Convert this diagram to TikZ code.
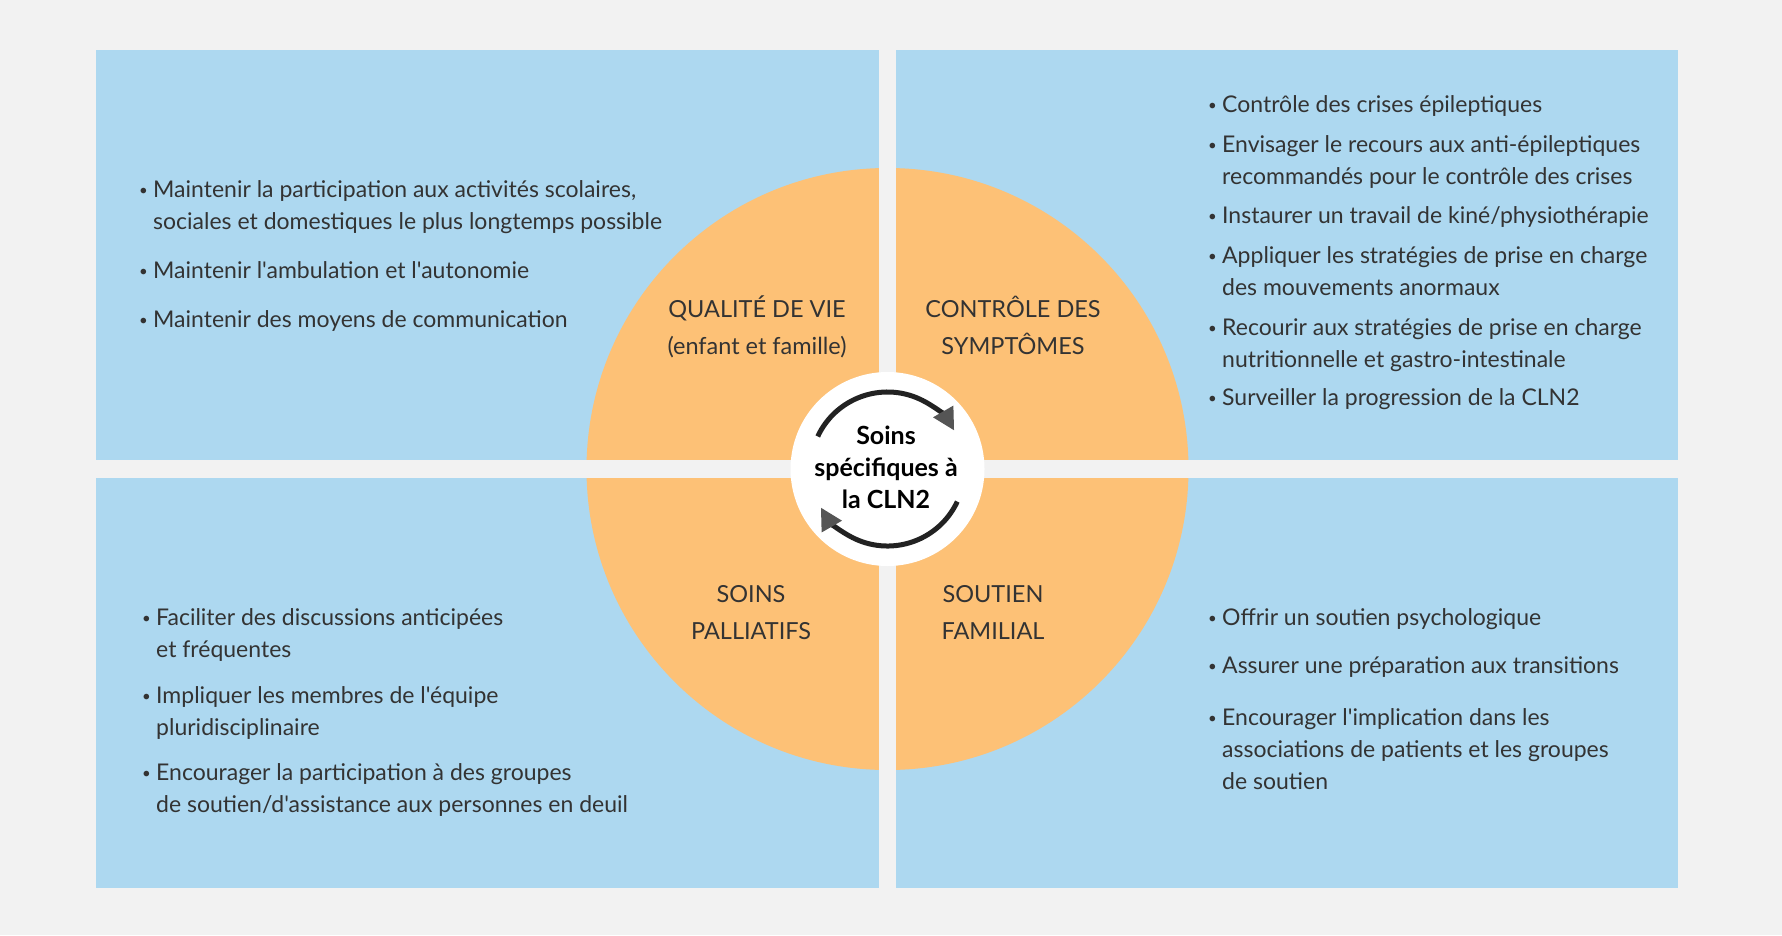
\documentclass[tikz,border=0pt]{standalone}
\usepackage{fontspec}
\setmainfont{Lato}[Ligatures=TeXOff]
\usetikzlibrary{arrows.meta}
\definecolor{bggrey}{HTML}{F2F2F2}
\definecolor{boxblue}{HTML}{ADD8F0}
\definecolor{ringorange}{HTML}{FDC176}
\definecolor{txtgrey}{HTML}{333333}
\definecolor{arcblack}{HTML}{222222}
\definecolor{tipgrey}{HTML}{555555}
\newcommand{\listbullet}{\makebox[14pt][l]{\raisebox{2pt}{\fontsize{15}{15}\selectfont •}}}
\newcommand{\itemlines}[1]{\begin{tabular}[t]{@{}l@{}}#1\end{tabular}}
\newcommand{\labellines}[1]{\begin{tabular}[t]{@{}c@{}}#1\end{tabular}}

\begin{document}
\begin{tikzpicture}[x=1pt,y=-1pt,
  listitem/.style={anchor=base west, inner sep=0pt, text=txtgrey, font=\fontsize{23}{32}\selectfont},
  quadlabel/.style={anchor=base, inner sep=0pt, text=txtgrey, font=\fontsize{23.5}{37}\selectfont},
  arcline/.style={draw=arcblack, line width=5pt, -{Triangle[length=22pt,width=22pt,color=tipgrey]}}]
% background and panels
\fill[bggrey] (0,0) rectangle (1782,935);
\fill[boxblue] (96,50) rectangle (879,460);
\fill[boxblue] (896,50) rectangle (1678,460);
\fill[boxblue] (96,478) rectangle (879,888);
\fill[boxblue] (896,478) rectangle (1678,888);
% orange disc, cut by the gaps
\coordinate (hub) at (887.5,469);
\fill[ringorange] (hub) circle[radius=301];
\fill[bggrey] (879,50) rectangle (896,888);
\fill[bggrey] (96,460) rectangle (1678,478);
\fill[white] (hub) circle[radius=97];
% cycle arrows
\draw[arcline] (hub) ++(155:77pt) arc[start angle=155, end angle=30, radius=77pt];
\draw[arcline] (hub) ++(-25:77pt) arc[start angle=-25, end angle=-150, radius=77pt];
\node[anchor=base, inner sep=0pt, text=black, font=\bfseries\fontsize{25}{32}\selectfont] (hubtext) at (886,444)
  {\labellines{Soins\\spécifiques à\\la CLN2}};
% quadrant titles
\node[quadlabel] (qvlabel) at (757,317) {\labellines{QUALITÉ DE VIE\\(enfant et famille)}};
\node[quadlabel] (cslabel) at (1013,317) {\labellines{CONTRÔLE DES\\SYMPTÔMES}};
\node[quadlabel] (splabel) at (751,602) {\labellines{SOINS\\PALLIATIFS}};
\node[quadlabel] (sflabel) at (993,602) {\labellines{SOUTIEN\\FAMILIAL}};
% qualite de vie
\node[listitem] (qv1) at (139,197) {\listbullet\itemlines{Maintenir la participation aux activités scolaires,\\sociales et domestiques le plus longtemps possible}};
\node[listitem] (qv2) at (139,278) {\listbullet\itemlines{Maintenir l'ambulation et l'autonomie}};
\node[listitem] (qv3) at (139,327) {\listbullet\itemlines{Maintenir des moyens de communication}};
% controle des symptomes
\node[listitem] (cs1) at (1208,112) {\listbullet\itemlines{Contrôle des crises épileptiques}};
\node[listitem] (cs2) at (1208,152) {\listbullet\itemlines{Envisager le recours aux anti-épileptiques\\recommandés pour le contrôle des crises}};
\node[listitem] (cs3) at (1208,223) {\listbullet\itemlines{Instaurer un travail de kiné/physiothérapie}};
\node[listitem] (cs4) at (1208,263) {\listbullet\itemlines{Appliquer les stratégies de prise en charge\\des mouvements anormaux}};
\node[listitem] (cs5) at (1208,335) {\listbullet\itemlines{Recourir aux stratégies de prise en charge\\nutritionnelle et gastro-intestinale}};
\node[listitem] (cs6) at (1208,405) {\listbullet\itemlines{Surveiller la progression de la CLN2}};
% soins palliatifs
\node[listitem] (sp1) at (142,625) {\listbullet\itemlines{Faciliter des discussions anticipées\\et fréquentes}};
\node[listitem] (sp2) at (142,703) {\listbullet\itemlines{Impliquer les membres de l'équipe\\pluridisciplinaire}};
\node[listitem] (sp3) at (142,780) {\listbullet\itemlines{Encourager la participation à des groupes\\de soutien/d'assistance aux personnes en deuil}};
% soutien familial
\node[listitem] (sf1) at (1208,625) {\listbullet\itemlines{Offrir un soutien psychologique}};
\node[listitem] (sf2) at (1208,673) {\listbullet\itemlines{Assurer une préparation aux transitions}};
\node[listitem] (sf3) at (1208,725) {\listbullet\itemlines{Encourager l'implication dans les\\associations de patients et les groupes\\de soutien}};
\end{tikzpicture}
\end{document}
